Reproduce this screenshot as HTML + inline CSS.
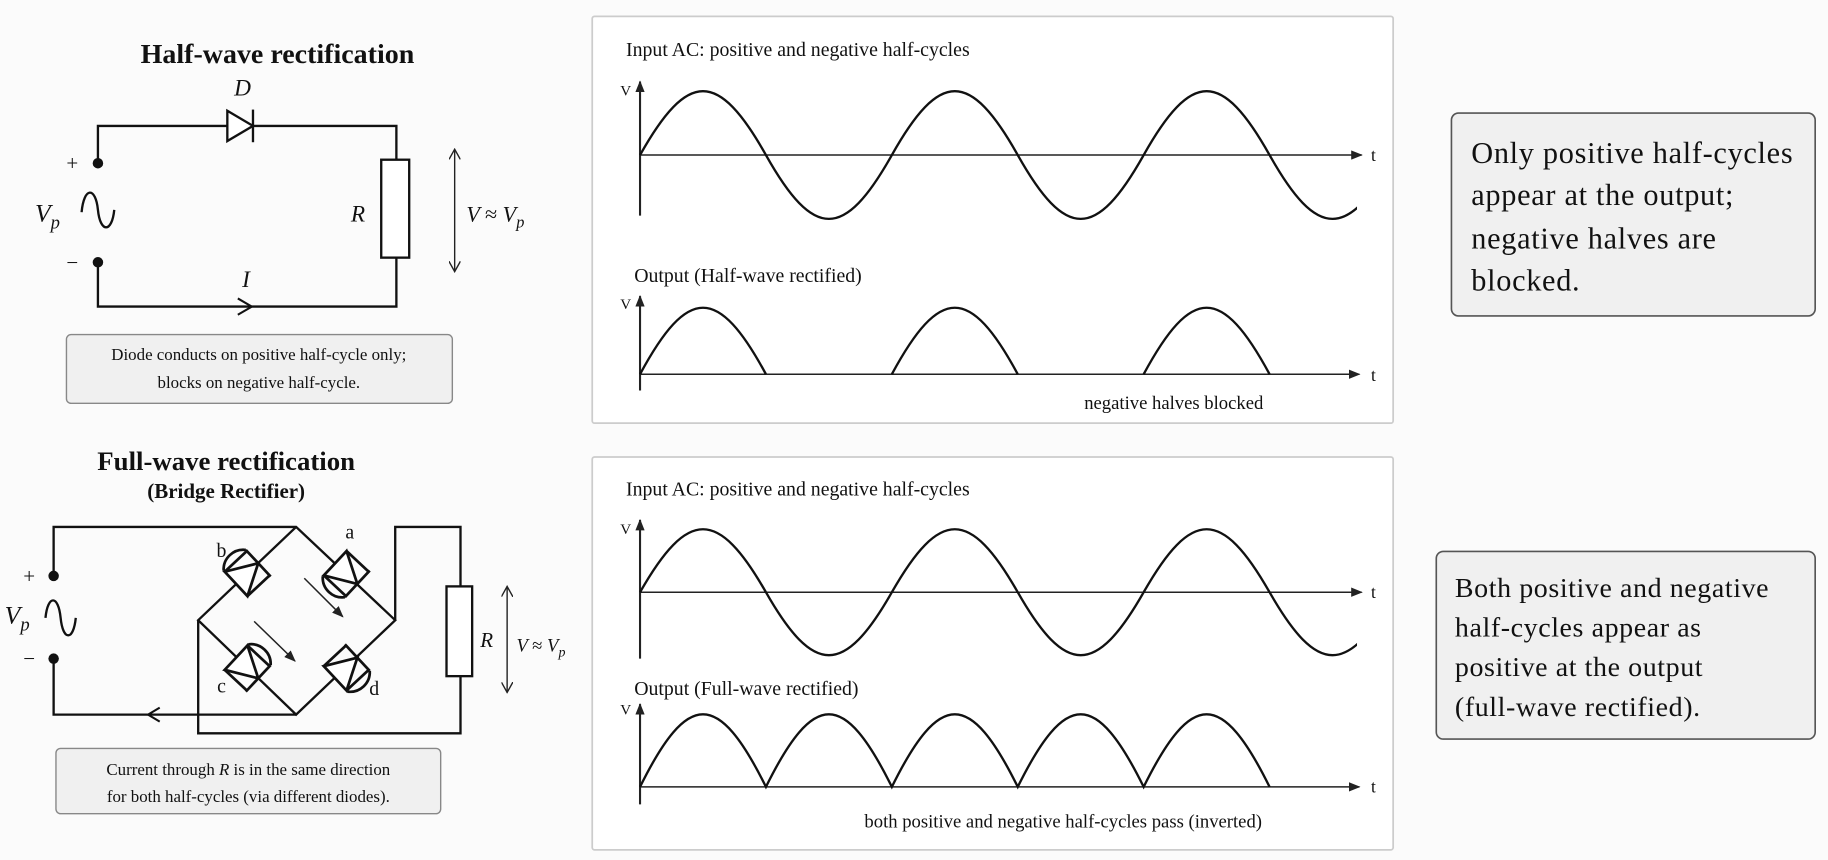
<!DOCTYPE html>
<html><head><meta charset="utf-8"><style>
html,body{margin:0;padding:0;background:#fbfbfb;}
svg{display:block;}
text{font-family:"Liberation Serif",serif;fill:#111;}
</style></head><body>
<svg width="1828" height="860" viewBox="0 0 1568 737.7" preserveAspectRatio="none" xmlns="http://www.w3.org/2000/svg">
<defs>
<marker id="ah" markerWidth="10" markerHeight="8" refX="9" refY="4" orient="auto" markerUnits="userSpaceOnUse"><path d="M0,0 L10,4 L0,8 Z" fill="#222"/></marker>
<marker id="ovs" markerWidth="10" markerHeight="10" refX="9" refY="5" orient="auto-start-reverse" markerUnits="userSpaceOnUse"><path d="M0,0 L9,5 L0,10" fill="none" stroke="#222" stroke-width="1.2"/></marker>
<clipPath id="c1"><rect x="500" y="0" width="664" height="738"/></clipPath>
</defs>
<rect width="1568" height="738" fill="#fbfbfb"/>

<!-- HALF WAVE CIRCUIT -->
<text x="238" y="54" font-size="24" font-weight="bold" text-anchor="middle">Half-wave rectification</text>
<g stroke="#111" stroke-width="2" fill="none">
<path d="M84,140 V108 H195 M217,108 H340 V137 M340,221 V263 H84 V225"/>
<path d="M195,95 L217,108 L195,121 Z" fill="#fff"/>
<path d="M217,94 V122"/>
<rect x="327" y="137" width="24" height="84" fill="#fff"/>
<path d="M204,256 L216,263 L204,270" stroke-width="1.8"/>
<path d="M70,182 C72,160 82,160 84,180 C86,200 96,200 98,180" stroke-width="2"/>
</g>
<circle cx="84" cy="140" r="4.5" fill="#111"/><circle cx="84" cy="225" r="4.5" fill="#111"/>
<line x1="390" y1="128" x2="390" y2="233" stroke="#222" stroke-width="1.2" marker-end="url(#ovs)" marker-start="url(#ovs)"/>
<text x="208" y="82" font-size="20" font-style="italic" text-anchor="middle">D</text>
<text x="211" y="246" font-size="20" font-style="italic" text-anchor="middle">I</text>
<text x="62" y="146" font-size="18" text-anchor="middle">+</text>
<text x="62" y="231" font-size="18" text-anchor="middle">−</text>
<text x="30" y="190" font-size="22" font-style="italic">V<tspan font-size="16" dy="6">p</tspan></text>
<text x="301" y="190" font-size="20" font-style="italic">R</text>
<text x="400" y="190" font-size="19" font-style="italic">V <tspan font-style="normal">≈</tspan> V<tspan font-size="14" dy="5">p</tspan></text>
<rect x="57" y="287" width="331" height="59" rx="4" fill="#f0f0f0" stroke="#888" stroke-width="1.2"/>
<text x="222" y="309" font-size="14.5" text-anchor="middle">Diode conducts on positive half-cycle only;</text>
<text x="222" y="333" font-size="14.5" text-anchor="middle">blocks on negative half-cycle.</text>

<!-- FULL WAVE CIRCUIT -->
<text x="194" y="403" font-size="23" font-weight="bold" text-anchor="middle">Full-wave rectification</text>
<text x="194" y="427" font-size="18" font-weight="bold" text-anchor="middle">(Bridge Rectifier)</text>
<g stroke="#111" stroke-width="2" fill="none">
<path d="M46,494 V452 H254 L339,532 L254,613 L170,532 L254,452"/>
<path d="M339,532 V452 H395 V503 M395,580 V629 H170 V532"/>
<path d="M254,613 H46 V565"/>
<rect x="383" y="503" width="22" height="77" fill="#fff"/>
<path d="M137,607 L127,613 L137,619" stroke-width="1.8"/>
<path d="M39,530 C41,510 50,510 52,530 C54,550 63,550 65,530"/>
</g>
<circle cx="46" cy="494" r="4.5" fill="#111"/><circle cx="46" cy="565" r="4.5" fill="#111"/>
<text x="25" y="500" font-size="18" text-anchor="middle">+</text>
<text x="25" y="571" font-size="18" text-anchor="middle">−</text>
<text x="4" y="535" font-size="22" font-style="italic">V<tspan font-size="16" dy="6">p</tspan></text>
<!-- diodes -->
<g stroke="#111" stroke-width="1.8" fill="#fff">
<g transform="translate(212,492) rotate(-43) scale(1.3)"><path d="M-10,-12 A13,13 0 0 1 10,-12" fill="none"/><path d="M-10,-11 L-10,11 L10,0 Z"/><path d="M10,-12 V12"/><path d="M-10,-11 H10 M-10,11 H10" fill="none"/></g>
<g transform="translate(297,492) rotate(43) scale(1.3)"><path d="M-10,12 A13,13 0 0 0 10,12" fill="none"/><path d="M-10,-11 L-10,11 L10,0 Z"/><path d="M10,-12 V12"/><path d="M-10,-11 H10 M-10,11 H10" fill="none"/></g>
<g transform="translate(212,573) rotate(43) scale(1.3)"><path d="M-10,-12 A13,13 0 0 1 10,-12" fill="none"/><path d="M-10,-11 L-10,11 L10,0 Z"/><path d="M10,-12 V12"/><path d="M-10,-11 H10 M-10,11 H10" fill="none"/></g>
<g transform="translate(297,573) rotate(-43) scale(1.3)"><path d="M-10,12 A13,13 0 0 0 10,12" fill="none"/><path d="M-10,-11 L-10,11 L10,0 Z"/><path d="M10,-12 V12"/><path d="M-10,-11 H10 M-10,11 H10" fill="none"/></g>
</g>
<line x1="261" y1="496" x2="294" y2="529" stroke="#222" stroke-width="1.3" marker-end="url(#ah)"/>
<line x1="218" y1="533" x2="253" y2="567" stroke="#222" stroke-width="1.3" marker-end="url(#ah)"/>
<text x="300" y="462" font-size="17" text-anchor="middle">a</text>
<text x="190" y="478" font-size="17" text-anchor="middle">b</text>
<text x="190" y="594" font-size="17" text-anchor="middle">c</text>
<text x="321" y="596" font-size="17" text-anchor="middle">d</text>
<text x="412" y="555" font-size="18" font-style="italic">R</text>
<line x1="435" y1="503" x2="435" y2="594" stroke="#222" stroke-width="1.2" marker-end="url(#ovs)" marker-start="url(#ovs)"/>
<text x="443" y="559" font-size="16" font-style="italic">V <tspan font-style="normal">≈</tspan> V<tspan font-size="12" dy="4">p</tspan></text>
<rect x="48" y="642" width="330" height="56" rx="4" fill="#f0f0f0" stroke="#888" stroke-width="1.2"/>
<text x="213" y="665" font-size="14.5" text-anchor="middle">Current through <tspan font-style="italic">R</tspan> is in the same direction</text>
<text x="213" y="688" font-size="14.5" text-anchor="middle">for both half-cycles (via different diodes).</text>

<!-- PANEL 1 -->
<rect x="508" y="14" width="687" height="349" fill="#fff" stroke="#ccc" stroke-width="1.5" rx="2"/>
<text x="537" y="48" font-size="17">Input AC: positive and negative half-cycles</text>
<text x="532" y="82" font-size="13">V</text>
<line x1="549" y1="185" x2="549" y2="70" stroke="#222" stroke-width="1.8" marker-end="url(#ah)"/>
<line x1="549" y1="133" x2="1168" y2="133" stroke="#222" stroke-width="1.3" marker-end="url(#ah)"/>
<text x="1176" y="138" font-size="15">t</text>
<path clip-path="url(#c1)" d="M549,133 C590,60 616,60 657,133 C698,206 724,206 765,133 C806,60 832,60 873,133 C914,206 940,206 981,133 C1022,60 1048,60 1089,133 C1130,206 1156,206 1197,133" fill="none" stroke="#111" stroke-width="2"/>
<text x="544" y="242" font-size="17">Output (Half-wave rectified)</text>
<text x="532" y="265" font-size="13">V</text>
<line x1="549" y1="335" x2="549" y2="254" stroke="#222" stroke-width="1.8" marker-end="url(#ah)"/>
<line x1="549" y1="321" x2="1166" y2="321" stroke="#222" stroke-width="1.3" marker-end="url(#ah)"/>
<text x="1176" y="327" font-size="15">t</text>
<path d="M549,321 C590,245 616,245 657,321 M765,321 C806,245 832,245 873,321 M981,321 C1022,245 1048,245 1089,321" fill="none" stroke="#111" stroke-width="2"/>
<text x="930" y="351" font-size="16">negative halves blocked</text>

<!-- PANEL 2 -->
<rect x="508" y="392" width="687" height="337" fill="#fff" stroke="#ccc" stroke-width="1.5" rx="2"/>
<text x="537" y="425" font-size="17">Input AC: positive and negative half-cycles</text>
<text x="532" y="458" font-size="13">V</text>
<line x1="549" y1="565" x2="549" y2="446" stroke="#222" stroke-width="1.8" marker-end="url(#ah)"/>
<line x1="549" y1="508" x2="1168" y2="508" stroke="#222" stroke-width="1.3" marker-end="url(#ah)"/>
<text x="1176" y="513" font-size="15">t</text>
<path clip-path="url(#c1)" d="M549,508 C590,436 616,436 657,508 C698,580 724,580 765,508 C806,436 832,436 873,508 C914,580 940,580 981,508 C1022,436 1048,436 1089,508 C1130,580 1156,580 1197,508" fill="none" stroke="#111" stroke-width="2"/>
<text x="544" y="596" font-size="17">Output (Full-wave rectified)</text>
<text x="532" y="613" font-size="13">V</text>
<line x1="549" y1="690" x2="549" y2="604" stroke="#222" stroke-width="1.8" marker-end="url(#ah)"/>
<line x1="549" y1="675" x2="1166" y2="675" stroke="#222" stroke-width="1.3" marker-end="url(#ah)"/>
<text x="1176" y="680" font-size="15">t</text>
<path d="M549,675 C590,592 616,592 657,675 C698,592 724,592 765,675 C806,592 832,592 873,675 C914,592 940,592 981,675 C1022,592 1048,592 1089,675" fill="none" stroke="#111" stroke-width="2"/>
<text x="912" y="710" font-size="16" text-anchor="middle">both positive and negative half-cycles pass (inverted)</text>

<!-- SUMMARY BOXES -->
<rect x="1245" y="97" width="312" height="174" rx="6" fill="#f0f0f0" stroke="#555" stroke-width="1.4"/>
<g font-size="26" letter-spacing="0.6">
<text x="1262" y="140">Only positive half-cycles</text>
<text x="1262" y="176">appear at the output;</text>
<text x="1262" y="213">negative halves are</text>
<text x="1262" y="249">blocked.</text>
</g>
<rect x="1232" y="473" width="325" height="161" rx="6" fill="#f0f0f0" stroke="#555" stroke-width="1.4"/>
<g font-size="24" letter-spacing="0.5">
<text x="1248" y="512">Both positive and negative</text>
<text x="1248" y="546">half-cycles appear as</text>
<text x="1248" y="580">positive at the output</text>
<text x="1248" y="614">(full-wave rectified).</text>
</g>
</svg>
</body></html>
